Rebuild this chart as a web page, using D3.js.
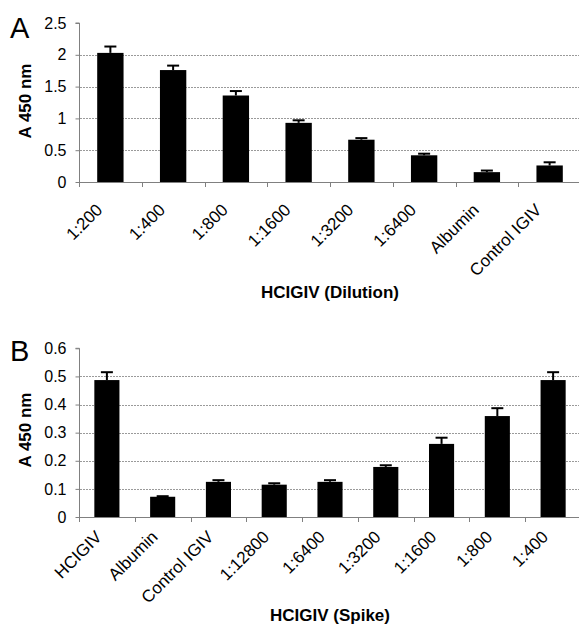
<!DOCTYPE html>
<html>
<head>
<meta charset="utf-8">
<script src="https://cdn.jsdelivr.net/npm/d3@7"></script>
<style>
  body { margin: 0; background: #fff; }
  svg { display: block; font-family: "Liberation Sans", Arial, sans-serif; }
</style>
</head>
<body>
<div id="chart"></div>
<script>
// panel A - dilution series
const catsA = ["1:200", "1:400", "1:800", "1:1600", "1:3200", "1:6400", "Albumin", "Control IGIV"]
const valsA = [2.03, 1.76, 1.36, 0.93, 0.665, 0.42, 0.155, 0.26]
const errA = [0.10, 0.07, 0.07, 0.04, 0.025, 0.025, 0.025, 0.05]
const ticksA = [0, 0.5, 1, 1.5, 2, 2.5]

// panel B - spike series
const catsB = ["HCIGIV", "Albumin", "Control IGIV", "1:12800", "1:6400", "1:3200", "1:1600", "1:800", "1:400"]
const valsB = [0.487, 0.072, 0.125, 0.115, 0.125, 0.178, 0.26, 0.359, 0.487]
const errB = [0.028, 0.002, 0.006, 0.005, 0.006, 0.006, 0.022, 0.028, 0.028]
const ticksB = [0, 0.1, 0.2, 0.3, 0.4, 0.5, 0.6]

const W = 579, H = 626

const svg = d3.select("#chart")
    .append("svg")
    .attr("width", W)
    .attr("height", H)

function drawPanel(opt) {
    const g = svg.append("g")

    const x = d3.scaleBand()
        .domain(opt.cats)
        .range([79, 581])
        .paddingInner(opt.pad)
        .paddingOuter(opt.pad / 2)

    const y = d3.scaleLinear()
        .domain([0, d3.max(opt.ticks)])
        .range([opt.y0, opt.y1])

    // gridlines (not at 0 and not at top)
    g.selectAll(".grid")
        .data(opt.ticks.slice(1, -1))
        .enter()
        .append("line")
        .attr("x1", 80)
        .attr("x2", 579)
        .attr("y1", d => Math.round(y(d)) + 0.5)
        .attr("y2", d => Math.round(y(d)) + 0.5)
        .attr("stroke", "#9a9a9a")
        .attr("stroke-dasharray", "2,1")

    // bars
    g.selectAll(".bar")
        .data(opt.vals)
        .enter()
        .append("rect")
        .attr("x", (d, i) => x(opt.cats[i]))
        .attr("y", d => y(d))
        .attr("width", x.bandwidth())
        .attr("height", d => opt.y0 - y(d))
        .attr("fill", "#000")

    // error bars (upper only)
    const eb = g.selectAll(".err")
        .data(opt.vals)
        .enter()
        .append("g")
    eb.append("line")
        .attr("x1", (d, i) => x(opt.cats[i]) + x.bandwidth() / 2)
        .attr("x2", (d, i) => x(opt.cats[i]) + x.bandwidth() / 2)
        .attr("y1", d => y(d))
        .attr("y2", (d, i) => y(d + opt.err[i]))
        .attr("stroke", "#000")
        .attr("stroke-width", 2)
    eb.append("line")
        .attr("x1", (d, i) => x(opt.cats[i]) + x.bandwidth() / 2 - 6)
        .attr("x2", (d, i) => x(opt.cats[i]) + x.bandwidth() / 2 + 6)
        .attr("y1", (d, i) => y(d + opt.err[i]))
        .attr("y2", (d, i) => y(d + opt.err[i]))
        .attr("stroke", "#000")
        .attr("stroke-width", 2)

    // y axis
    const yAxis = d3.axisLeft(y)
        .tickValues(opt.ticks)
        .tickFormat(d => d)
        .tickSize(4)
        .tickPadding(9)
    const ya = g.append("g")
        .attr("transform", "translate(79.5,0)")
        .call(yAxis)
    ya.selectAll("path, line").attr("stroke", "#808080")
    ya.select(".domain").attr("d", `M-4,${y(d3.max(opt.ticks))}H0V${opt.y0}`)
    ya.selectAll("text")
        .attr("font-size", 16)
        .attr("font-family", "Liberation Sans, Arial, sans-serif")
        .attr("fill", "#000")

    // x axis with ticks between categories
    const xa = g.append("g")
    xa.append("line")
        .attr("x1", 79)
        .attr("x2", 579)
        .attr("y1", opt.y0 + 0.5)
        .attr("y2", opt.y0 + 0.5)
        .attr("stroke", "#808080")
    xa.selectAll(".xt")
        .data(opt.cats)
        .enter()
        .append("line")
        .attr("x1", d => Math.round(x(d) - x.step() * opt.pad / 2) + 0.5)
        .attr("x2", d => Math.round(x(d) - x.step() * opt.pad / 2) + 0.5)
        .attr("y1", opt.y0)
        .attr("y2", opt.y0 + 5)
        .attr("stroke", "#808080")
    xa.selectAll(".xl")
        .data(opt.cats)
        .enter()
        .append("text")
        .attr("transform", d => `translate(${x(d) + x.bandwidth() / 2 + opt.lblDx},${opt.y0 + opt.lblDy}) rotate(-45)`)
        .attr("text-anchor", "end")
        .attr("font-size", 17)
        .text(d => d)

    // axis titles
    g.append("text")
        .attr("transform", `translate(31,${opt.ylabY}) rotate(-90)`)
        .attr("text-anchor", "middle")
        .attr("font-size", 17)
        .attr("font-weight", "bold")
        .text("A 450 nm")

    g.append("text")
        .attr("x", 330)
        .attr("y", opt.xlabY)
        .attr("text-anchor", "middle")
        .attr("font-size", 17)
        .attr("font-weight", "bold")
        .text(opt.xlabel)

    // panel letter
    g.append("text")
        .attr("x", 10)
        .attr("y", opt.letterY)
        .attr("font-size", 29)
        .text(opt.letter)
}

drawPanel({
    cats: catsA, vals: valsA, err: errA, ticks: ticksA, pad: 0.58,
    y0: 182, y1: 23, ylabY: 101, xlabY: 298, xlabel: "HCIGIV (Dilution)",
    letter: "A", letterY: 38, lblDx: -7, lblDy: 29
})

drawPanel({
    cats: catsB, vals: valsB, err: errB, ticks: ticksB, pad: 0.55,
    y0: 517, y1: 348.3, ylabY: 430, xlabY: 621, xlabel: "HCIGIV (Spike)",
    letter: "B", letterY: 361, lblDx: -4, lblDy: 21
})
</script>
</body>
</html>
